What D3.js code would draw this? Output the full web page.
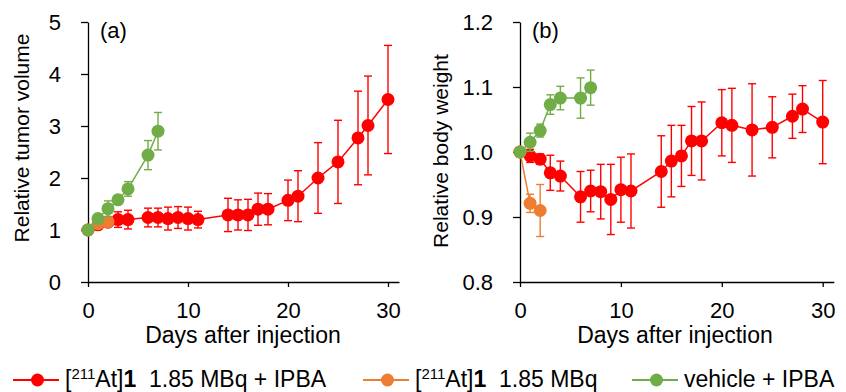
<!DOCTYPE html>
<html>
<head>
<meta charset="utf-8">
<script src="https://cdn.jsdelivr.net/npm/d3@7"></script>
<style>
  body { margin: 0; background: #fff; }
  svg { font-family: Arial, 'Liberation Sans', sans-serif; }
  .axis path, .axis line { stroke: #000; stroke-width: 1.3; }
  .axis text { font-size: 22px; fill: #000; }
</style>
</head>
<body>
<svg width="846" height="392"></svg>
<script>
'use strict'

// days
const redDays = [0, 1, 2, 3, 4, 6, 7, 8, 9, 10, 11, 14, 15, 16, 17, 18, 20, 21, 23, 25, 27, 28, 30]
const orangeDays = [0, 1, 2]
const greenDays = [0, 1, 2, 3, 4, 6, 7]

// (a) relative tumor volume, mean and error
const redTumor = [1.0, 1.1, 1.15, 1.2, 1.2, 1.24, 1.24, 1.22, 1.24, 1.22, 1.2, 1.29, 1.29, 1.29, 1.4, 1.4, 1.57, 1.65, 2.0, 2.31, 2.77, 3.01, 3.51]
const redTumorErr = [0, 0.05, 0.08, 0.15, 0.18, 0.18, 0.18, 0.22, 0.21, 0.22, 0.16, 0.32, 0.29, 0.3, 0.31, 0.3, 0.39, 0.49, 0.68, 0.8, 0.9, 0.95, 1.04]
const orangeTumor = [1.0, 1.12, 1.16]
const orangeTumorErr = [0, 0.05, 0.05]
const greenTumor = [1.0, 1.22, 1.41, 1.58, 1.79, 2.44, 2.9]
const greenTumorErr = [0, 0.08, 0.15, 0.05, 0.14, 0.28, 0.36]

// (b) relative body weight, mean and error
const redBody = [1.0, 0.994, 0.989, 0.968, 0.963, 0.931, 0.94, 0.939, 0.927, 0.942, 0.94, 0.97, 0.986, 0.994, 1.017, 1.017, 1.045, 1.041, 1.034, 1.038, 1.055, 1.066, 1.046]
const redBodyErr = [0, 0.01, 0.008, 0.027, 0.023, 0.039, 0.032, 0.042, 0.054, 0.05, 0.057, 0.055, 0.055, 0.047, 0.053, 0.06, 0.051, 0.057, 0.071, 0.047, 0.034, 0.036, 0.064]
const orangeBody = [1.0, 0.921, 0.91]
const orangeBodyErr = [0, 0.014, 0.04]
const greenBody = [1.0, 1.015, 1.033, 1.073, 1.083, 1.083, 1.099]
const greenBodyErr = [0, 0.014, 0.01, 0.015, 0.018, 0.031, 0.027]

// ticks
const xTicks = [0, 10, 20, 30]
const tumorTicks = [0, 1, 2, 3, 4, 5]
const bodyTicks = [0.8, 0.9, 1.0, 1.1, 1.2]

const colors = { red: '#ff0000', orange: '#ed7d31', green: '#70ad47' }

const svg = d3.select('svg')

const zip = (days, vals, errs) => days.map((d, i) => ({ day: d, v: vals[i], e: errs[i] }))

function panel(opt) {
    const x = d3.scaleLinear().domain([0, 31.1]).range([opt.left, opt.left + 31.1 * opt.pxPerDay])
    const y = d3.scaleLinear().domain(opt.yDomain).range([282, 22])

    svg.append('g')
        .attr('class', 'axis')
        .attr('transform', `translate(0, ${y(opt.yDomain[0])})`)
        .call(d3.axisBottom(x).tickValues(xTicks).tickSize(5).tickSizeOuter(0).tickPadding(15))

    svg.append('g')
        .attr('class', 'axis')
        .attr('transform', `translate(${opt.left}, 0)`)
        .call(d3.axisLeft(y).tickValues(opt.yTicks).tickSize(7).tickSizeOuter(0)
            .tickPadding(opt.tickPad).tickFormat(opt.fmt))

    svg.selectAll('.axis .domain').attr('stroke', '#000')

    const series = [
        { data: zip(redDays, opt.red, opt.redErr), color: colors.red },
        { data: zip(orangeDays, opt.orange, opt.orangeErr), color: colors.orange },
        { data: zip(greenDays, opt.green, opt.greenErr), color: colors.green }
    ]

    const line = d3.line().x((d) => x(d.day)).y((d) => y(d.v))

    series.forEach((s) => {
        const g = svg.append('g')
        g.append('path')
            .datum(s.data)
            .attr('d', line)
            .attr('fill', 'none')
            .attr('stroke', s.color)
            .attr('stroke-width', 1.5)

        const eb = g.selectAll('.err')
            .data(s.data.filter((d) => d.e > 0))
            .enter()
            .append('g')
            .attr('stroke', s.color)
            .attr('stroke-width', 1.4)
        eb.append('line')
            .attr('x1', (d) => x(d.day)).attr('x2', (d) => x(d.day))
            .attr('y1', (d) => y(d.v - d.e)).attr('y2', (d) => y(d.v + d.e))
        eb.append('line')
            .attr('x1', (d) => x(d.day) - 4).attr('x2', (d) => x(d.day) + 4)
            .attr('y1', (d) => y(d.v + d.e)).attr('y2', (d) => y(d.v + d.e))
        eb.append('line')
            .attr('x1', (d) => x(d.day) - 4).attr('x2', (d) => x(d.day) + 4)
            .attr('y1', (d) => y(d.v - d.e)).attr('y2', (d) => y(d.v - d.e))

        g.selectAll('circle')
            .data(s.data)
            .enter()
            .append('circle')
            .attr('cx', (d) => x(d.day))
            .attr('cy', (d) => y(d.v))
            .attr('r', 6.5)
            .attr('fill', s.color)
    })

    svg.append('text')
        .attr('x', opt.tagX)
        .attr('y', 38)
        .attr('font-size', 22)
        .text(opt.tag)

    svg.append('text')
        .attr('transform', `translate(${opt.labelX}, ${opt.labelY}) rotate(-90)`)
        .attr('text-anchor', 'middle')
        .attr('font-size', 21)
        .text(opt.yLabel)

    svg.append('text')
        .attr('x', opt.left + 155)
        .attr('y', 343)
        .attr('text-anchor', 'middle')
        .attr('font-size', 23)
        .text('Days after injection')
}

panel({
    left: 88, pxPerDay: 10, yDomain: [0, 5], yTicks: tumorTicks, fmt: d3.format('d'), tickPad: 20,
    red: redTumor, redErr: redTumorErr, orange: orangeTumor, orangeErr: orangeTumorErr,
    green: greenTumor, greenErr: greenTumorErr,
    tag: '(a)', tagX: 100, yLabel: 'Relative tumor volume', labelX: 29, labelY: 138
})

panel({
    left: 520, pxPerDay: 10.09, yDomain: [0.8, 1.2], yTicks: bodyTicks, fmt: d3.format('.1f'), tickPad: 20,
    red: redBody, redErr: redBodyErr, orange: orangeBody, orangeErr: orangeBodyErr,
    green: greenBody, greenErr: greenBodyErr,
    tag: '(b)', tagX: 532, yLabel: 'Relative body weight', labelX: 448, labelY: 151
})

// legend
const legendItems = [
    { color: colors.red, x: 13, tail: ' 1.85 MBq + IPBA', withSpace: true },
    { color: colors.orange, x: 363, tail: ' 1.85 MBq', withSpace: true },
    { color: colors.green, x: 632, plain: 'vehicle + IPBA' }
]

const leg = svg.selectAll('.legend')
    .data(legendItems)
    .enter()
    .append('g')
    .attr('class', 'legend')
    .attr('transform', (d) => `translate(${d.x}, 380)`)

leg.append('line')
    .attr('x1', 0).attr('x2', 46)
    .attr('stroke', (d) => d.color)
    .attr('stroke-width', 2)
leg.append('circle')
    .attr('cx', 24.5)
    .attr('r', 6.5)
    .attr('fill', (d) => d.color)

leg.each(function(d) {
    const t = d3.select(this).append('text')
        .attr('x', 52)
        .attr('y', 7)
        .attr('font-size', 23)
        .attr('xml:space', 'preserve')
    if (d.plain) {
        t.text(d.plain)
        return
    }
    t.append('tspan').text('[')
    t.append('tspan').attr('dy', -8).attr('font-size', 15).text('211')
    t.append('tspan').attr('dy', 8).text('At]')
    t.append('tspan').attr('font-weight', 'bold').text('1')
    t.append('tspan').text(' ' + d.tail)
})
</script>
</body>
</html>
